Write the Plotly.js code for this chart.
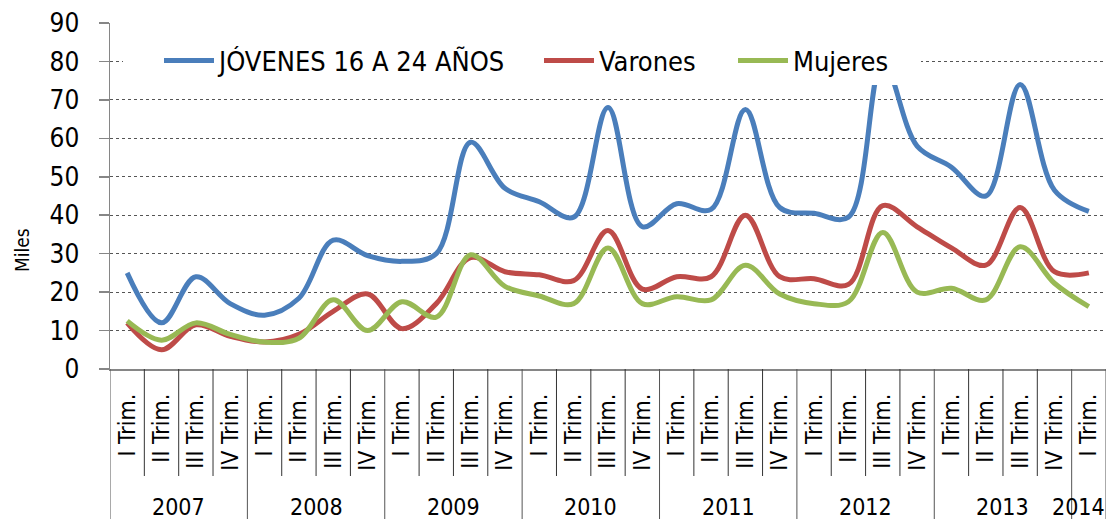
<!DOCTYPE html>
<html>
<head>
<meta charset="utf-8">
<script src="https://cdn.plot.ly/plotly-3.0.1.min.js"></script>
<style>
html,body{margin:0;padding:0;background:#fff;}
#chart{width:1112px;height:519px;}
</style>
</head>
<body>
<div id="chart"></div>
<script>
// ---- DATA ----
const years = ["2007","2007","2007","2007","2008","2008","2008","2008","2009","2009","2009","2009",
  "2010","2010","2010","2010","2011","2011","2011","2011","2012","2012","2012","2012",
  "2013","2013","2013","2013","2014"];
const quarters = ["I Trim.","II Trim.","III Trim.","IV Trim.","I Trim.","II Trim.","III Trim.","IV Trim.",
  "I Trim.","II Trim.","III Trim.","IV Trim.","I Trim.","II Trim.","III Trim.","IV Trim.",
  "I Trim.","II Trim.","III Trim.","IV Trim.","I Trim.","II Trim.","III Trim.","IV Trim.",
  "I Trim.","II Trim.","III Trim.","IV Trim.","I Trim."];
const jovenes = [25, 12, 24, 17, 14, 18.4, 33.5, 29.5, 28, 30, 59, 47, 43.5, 39.5, 68, 37, 43, 41.5, 67.5, 42, 40.5, 39.5, 80, 58, 52.5, 45, 74, 46.5, 41];
const varones = [12, 5, 11.5, 8.5, 7, 9, 15, 19.5, 10.5, 17, 29, 25.3, 24.5, 23, 36, 20.8, 24, 24, 40, 24, 23.5, 22, 42.5, 37, 31.5, 27, 42, 25.3, 25];
const mujeres = [12.5, 7.5, 12, 9, 7, 8, 18, 10, 17.5, 13.5, 29.7, 21.5, 19, 17, 31.5, 17, 18.8, 18, 27, 19.5, 17, 17.5, 35.5, 20, 21, 18, 31.8, 22.3, 16.2];
const seriesNames = ["JÓVENES 16 A 24 AÑOS", "Varones", "Mujeres"];
const seriesColors = ["#4A7EBB", "#BE4B48", "#98B954"];

// ---- BUILD ----
const FONT = "DejaVu Sans Condensed, DejaVu Sans, sans-serif";
const PW = 996, PH = 346, PL = 110, PB = 369;   // plot area geometry (px)
const px2x = p => (p - PL) / PW;
const px2y = p => (PB - p) / PH;

const idx = quarters.map((_, i) => i);
const allSeries = [jovenes, varones, mujeres];
const legendIds = ["legend", "legend2", "legend3"];
const traces = allSeries.map((vals, k) => ({
  type: "scatter",
  mode: "lines",
  x: idx,
  y: vals,
  name: seriesNames[k],
  legend: legendIds[k],
  line: {color: seriesColors[k], width: 5, shape: "spline", smoothing: 1},
  hoverinfo: "x+y+name"
}));

const n = quarters.length;
const shortY = -107/PH, longY = -150/PH;
const shapes = [];
for (let i = 0; i <= n; i++) {
  const isYearEdge = (i === 0 || i === n || years[i] !== years[i-1]);
  shapes.push({
    type: "line", xref: "x", yref: "paper",
    x0: i - 0.5, x1: i - 0.5, y0: 0, y1: isYearEdge ? longY : shortY,
    line: {color: isYearEdge ? "#555555" : "#333333", width: 1},
    layer: "above"
  });
}
// white legend area (as in the original, the legend box hides what is under it)
shapes.push({
  type: "rect", xref: "paper", yref: "paper",
  x0: px2x(123), x1: px2x(921), y0: px2y(85), y1: px2y(38),
  fillcolor: "#ffffff", line: {width: 0}, layer: "above"
});

const annotations = [];
const uniqYears = [...new Set(years)];
uniqYears.forEach((y, j) => {
  const ids = idx.filter(i => years[i] === y);
  const cx = ids.reduce((a, b) => a + b, 0) / ids.length;
  const last = (j === uniqYears.length - 1 && ids.length === 1);
  annotations.push({
    xref: "x", yref: "paper",
    x: last ? n - 0.5 : cx, xanchor: last ? "right" : "center", xshift: last ? 1 : 0,
    y: px2y(507), yanchor: "middle",
    text: y, showarrow: false,
    font: {family: FONT, size: 23, color: "#000"}
  });
});
annotations.push({
  xref: "paper", yref: "paper", x: px2x(22), y: px2y(250),
  text: "Miles", showarrow: false, textangle: -90,
  xanchor: "center", yanchor: "middle",
  font: {family: FONT, size: 19, color: "#000"}
});

const legendBase = {
  orientation: "h", xanchor: "left", y: px2y(61), yanchor: "middle",
  bgcolor: "rgba(255,255,255,0)", borderwidth: 0,
  font: {family: FONT, size: 27, color: "#000"},
  itemwidth: 50
};

const layout = {
  width: 1112, height: 519,
  margin: {l: 110, r: 6, t: 23, b: 150, pad: 0},
  paper_bgcolor: "#fff", plot_bgcolor: "#fff",
  font: {family: FONT, color: "#000"},
  showlegend: true,
  legend:  Object.assign({}, legendBase, {x: px2x(159)}),
  legend2: Object.assign({}, legendBase, {x: px2x(539)}),
  legend3: Object.assign({}, legendBase, {x: px2x(733)}),
  xaxis: {
    range: [-0.5, n - 0.5],
    tickmode: "array", tickvals: idx, ticktext: quarters,
    tickangle: -90, ticks: "", showgrid: false, zeroline: false,
    showline: true, linecolor: "#868686", linewidth: 1.5,
    tickfont: {family: FONT, size: 23, color: "#000"},
    ticklabelstandoff: 14,
    fixedrange: true
  },
  yaxis: {
    range: [0, 90], dtick: 10, tick0: 0,
    showgrid: true, gridcolor: "#555555", griddash: "dot", gridwidth: 1,
    zeroline: false, showline: true, linecolor: "#868686", linewidth: 1.5,
    ticks: "outside", ticklen: 10, tickcolor: "#868686", tickwidth: 1.5,
    tickfont: {family: FONT, size: 26, color: "#000"},
    ticklabelstandoff: 14,
    fixedrange: true
  },
  shapes: shapes,
  annotations: annotations
};

Plotly.newPlot("chart", traces, layout, {displayModeBar: false, staticPlot: true});
</script>
</body>
</html>
